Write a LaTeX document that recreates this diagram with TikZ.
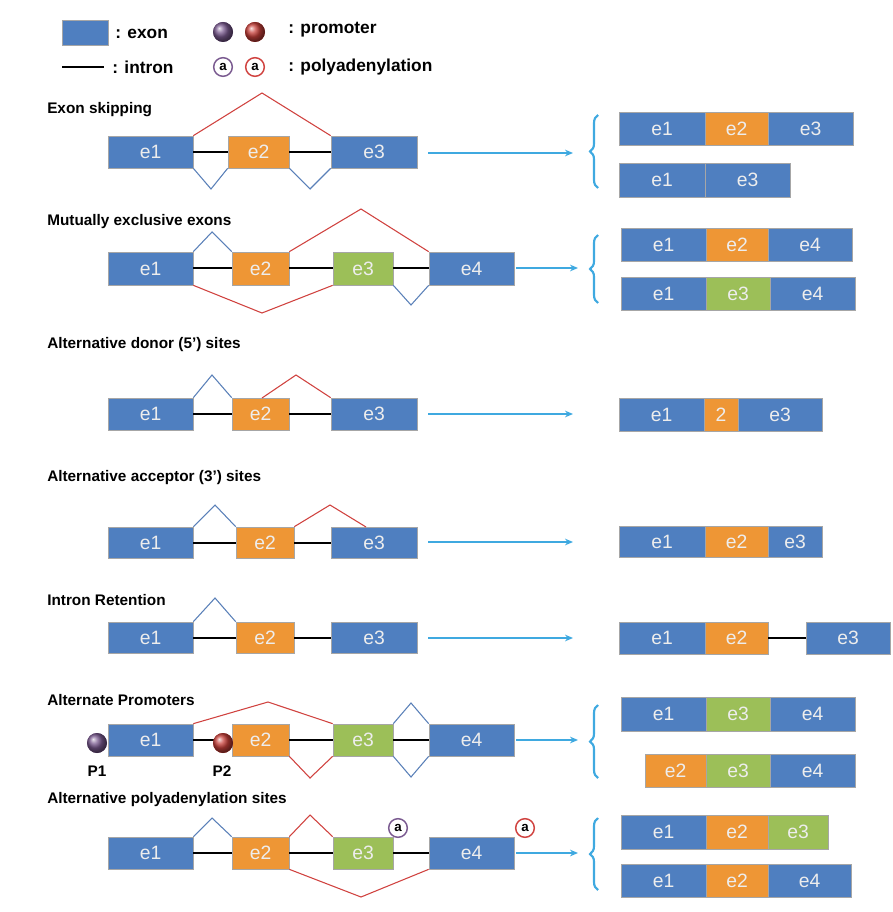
\documentclass[tikz,border=0pt]{standalone}
\usepackage{fontspec}
\setmainfont{Liberation Sans}
\usetikzlibrary{decorations.pathreplacing,arrows.meta}
\definecolor{eblue}{HTML}{4F7FC0}
\definecolor{eorange}{HTML}{EE9635}
\definecolor{egreen}{HTML}{9CBF58}
\definecolor{sred}{HTML}{D0423F}
\definecolor{sblue}{HTML}{5A80B8}
\definecolor{arrc}{HTML}{3FA9E0}
\definecolor{ppl}{HTML}{7A5A90}
\definecolor{rball}{HTML}{C8403A}
\tikzset{
 exon/.style={draw=black!35, line width=0.5pt, inner sep=0pt, text=white!93!black, font=\fontsize{14.5}{14.5}\selectfont},
 intron/.style={line width=1.5pt, black},
 rs/.style={sred, line width=0.8pt},
 bs/.style={sblue, line width=0.8pt},
 arr/.style={arrc, line width=1.2pt, -{Stealth[length=6pt,width=5pt]}},
 br/.style={arrc, line width=1.6pt, decorate, decoration={brace, amplitude=6pt, mirror}},
 ttl/.style={anchor=west, font=\bfseries\fontsize{11.5}{11.5}\selectfont, inner sep=0pt},
 lg/.style={anchor=west, font=\bfseries\fontsize{13}{13}\selectfont, inner sep=0pt},
 pa/.style={circle, draw=#1, line width=1.1pt, fill=white, minimum size=14pt, inner sep=0pt, font=\bfseries\fontsize{10}{10}\selectfont},
 ball/.style={circle, fill=#1, minimum size=15pt, inner sep=0pt, shading=ball, ball color=#1},
}
\newcommand\exonbox[7]{\node[exon,fill=#6,minimum width={(#3-#2)*0.75pt},minimum height={(#5-#4)*0.75pt}] (#1) at ({(#2+#3)/2},{(#4+#5)/2}) {#7};}
\begin{document}
\begin{tikzpicture}[x=0.75pt,y=-0.75pt]
\useasboundingbox (0,0) rectangle (892,912);
% legend
\exonbox{lgex}{62}{108}{20}{45}{eblue}{}
\node[lg] (lgext) at (115,34) {: exon};
\coordinate (li1) at (62,67); \coordinate (li2) at (104,67);
\draw[intron] (li1) -- (li2);
\node[lg] (lgint) at (112,67) {: intron};
\node[ball=ppl] (lgb1) at (223,32) {};
\node[ball=rball] (lgb2) at (255,32) {};
\node[lg] (lgpr) at (288,30) {: promoter};
\node[pa=ppl] (lga1) at (223,67) {a};
\node[pa=sred] (lga2) at (255,67) {a};
\node[lg] (lgpa) at (288,67) {: polyadenylation};

% Row 1
\node[ttl] (t1) at (47,110) {Exon skipping};
\exonbox{a1}{108}{193}{136}{168}{eblue}{e1}
\exonbox{a2}{228}{289}{136}{168}{eorange}{e2}
\exonbox{a3}{331}{417}{136}{168}{eblue}{e3}
\draw[intron] (a1.east) -- (a2.west) (a2.east) -- (a3.west);
\draw[rs] (a1.north east) -- (262,93) -- (a3.north west);
\draw[bs] (a1.south east) -- (211,189) -- (a2.south west);
\draw[bs] (a2.south east) -- (310,189) -- (a3.south west);
\coordinate (as) at (428,153); \coordinate (ae) at (573,153);
\draw[arr] (as) -- (ae);
\coordinate (ab1) at (598,115); \coordinate (ab2) at (598,188);
\draw[br] (ab1) -- (ab2);
\exonbox{ar1}{619}{705}{112}{145}{eblue}{e1}
\exonbox{ar2}{705}{768}{112}{145}{eorange}{e2}
\exonbox{ar3}{768}{853}{112}{145}{eblue}{e3}
\exonbox{ar4}{619}{705}{163}{197}{eblue}{e1}
\exonbox{ar5}{705}{790}{163}{197}{eblue}{e3}

% Row 2
\node[ttl] (t2) at (47,222) {Mutually exclusive exons};
\exonbox{b1}{108}{193}{252}{285}{eblue}{e1}
\exonbox{b2}{232}{289}{252}{285}{eorange}{e2}
\exonbox{b3}{333}{393}{252}{285}{egreen}{e3}
\exonbox{b4}{429}{514}{252}{285}{eblue}{e4}
\draw[intron] (b1.east) -- (b2.west) (b2.east) -- (b3.west) (b3.east) -- (b4.west);
\draw[bs] (b1.north east) -- (212,232) -- (b2.north west);
\draw[rs] (b2.north east) -- (361,209) -- (b4.north west);
\draw[rs] (b1.south east) -- (262,313) -- (b3.south west);
\draw[bs] (b3.south east) -- (411,305) -- (b4.south west);
\coordinate (bs) at (516,268); \coordinate (be) at (578,268);
\draw[arr] (bs) -- (be);
\coordinate (bb1) at (598,235); \coordinate (bb2) at (598,303);
\draw[br] (bb1) -- (bb2);
\exonbox{br1}{621}{706}{228}{261}{eblue}{e1}
\exonbox{br2}{706}{768}{228}{261}{eorange}{e2}
\exonbox{br3}{768}{852}{228}{261}{eblue}{e4}
\exonbox{br4}{621}{706}{277}{310}{eblue}{e1}
\exonbox{br5}{706}{770}{277}{310}{egreen}{e3}
\exonbox{br6}{770}{855}{277}{310}{eblue}{e4}

% Row 3
\node[ttl] (t3) at (47,345) {Alternative donor (5’) sites};
\exonbox{c1}{108}{193}{398}{430}{eblue}{e1}
\exonbox{c2}{232}{289}{398}{430}{eorange}{e2}
\exonbox{c3}{331}{417}{398}{430}{eblue}{e3}
\draw[intron] (c1.east) -- (c2.west) (c2.east) -- (c3.west);
\draw[bs] (c1.north east) -- (212,375) -- (c2.north west);
\coordinate (cd) at (262,398);
\draw[rs] (cd) -- (296,375) -- (c3.north west);
\coordinate (cs) at (428,414); \coordinate (ce) at (573,414);
\draw[arr] (cs) -- (ce);
\exonbox{cr1}{619}{704}{398}{431}{eblue}{e1}
\exonbox{cr2}{704}{738}{398}{431}{eorange}{2}
\exonbox{cr3}{738}{822}{398}{431}{eblue}{e3}

% Row 4
\node[ttl] (t4) at (47,478) {Alternative acceptor (3’) sites};
\exonbox{d1}{108}{193}{527}{558}{eblue}{e1}
\exonbox{d2}{236}{294}{527}{558}{eorange}{e2}
\exonbox{d3}{331}{417}{527}{558}{eblue}{e3}
\draw[intron] (d1.east) -- (d2.west) (d2.east) -- (d3.west);
\draw[bs] (d1.north east) -- (215,505) -- (d2.north west);
\coordinate (dd) at (366,527);
\draw[rs] (d2.north east) -- (330,505) -- (dd);
\coordinate (ds) at (428,542); \coordinate (de) at (573,542);
\draw[arr] (ds) -- (de);
\exonbox{dr1}{619}{705}{526}{557}{eblue}{e1}
\exonbox{dr2}{705}{768}{526}{557}{eorange}{e2}
\exonbox{dr3}{768}{822}{526}{557}{eblue}{e3}

% Row 5
\node[ttl] (t5) at (47,600) {Intron Retention};
\exonbox{e1}{108}{193}{622}{653}{eblue}{e1}
\exonbox{e2}{236}{294}{622}{653}{eorange}{e2}
\exonbox{e3}{331}{417}{622}{653}{eblue}{e3}
\draw[intron] (e1.east) -- (e2.west) (e2.east) -- (e3.west);
\draw[bs] (e1.north east) -- (215,598) -- (e2.north west);
\coordinate (es) at (428,638); \coordinate (ee) at (573,638);
\draw[arr] (es) -- (ee);
\exonbox{er1}{619}{705}{622}{654}{eblue}{e1}
\exonbox{er2}{705}{768}{622}{654}{eorange}{e2}
\exonbox{er3}{806}{890}{622}{654}{eblue}{e3}
\draw[intron] (er2.east) -- (er3.west);

% Row 6
\node[ttl] (t6) at (47,700) {Alternate Promoters};
\exonbox{f1}{108}{193}{724}{756}{eblue}{e1}
\exonbox{f2}{232}{289}{724}{756}{eorange}{e2}
\exonbox{f3}{333}{393}{724}{756}{egreen}{e3}
\exonbox{f4}{429}{514}{724}{756}{eblue}{e4}
\draw[intron] (f1.east) -- (f2.west) (f2.east) -- (f3.west) (f3.east) -- (f4.west);
\node[ball=ppl] (p1) at (97,743) {};
\node[ball=rball] (p2) at (223,743) {};
\node[font=\bfseries\fontsize{11.5}{11.5}\selectfont, inner sep=0pt] (p1l) at (97,771) {P1};
\node[font=\bfseries\fontsize{11.5}{11.5}\selectfont, inner sep=0pt] (p2l) at (222,771) {P2};
\draw[rs] (f1.north east) -- (268,702) -- (f3.north west);
\draw[rs] (f2.south east) -- (310,778) -- (f3.south west);
\draw[bs] (f3.north east) -- (411,703) -- (f4.north west);
\draw[bs] (f3.south east) -- (411,777) -- (f4.south west);
\coordinate (fs) at (516,740); \coordinate (fe) at (578,740);
\draw[arr] (fs) -- (fe);
\coordinate (fb1) at (598,705); \coordinate (fb2) at (598,778);
\draw[br] (fb1) -- (fb2);
\exonbox{fr1}{621}{706}{697}{731}{eblue}{e1}
\exonbox{fr2}{706}{770}{697}{731}{egreen}{e3}
\exonbox{fr3}{770}{855}{697}{731}{eblue}{e4}
\exonbox{fr4}{645}{706}{754}{787}{eorange}{e2}
\exonbox{fr5}{706}{770}{754}{787}{egreen}{e3}
\exonbox{fr6}{770}{855}{754}{787}{eblue}{e4}

% Row 7
\node[ttl] (t7) at (47,800) {Alternative polyadenylation sites};
\exonbox{g1}{108}{193}{837}{869}{eblue}{e1}
\exonbox{g2}{232}{289}{837}{869}{eorange}{e2}
\exonbox{g3}{333}{393}{837}{869}{egreen}{e3}
\exonbox{g4}{429}{514}{837}{869}{eblue}{e4}
\draw[intron] (g1.east) -- (g2.west) (g2.east) -- (g3.west) (g3.east) -- (g4.west);
\draw[bs] (g1.north east) -- (212,818) -- (g2.north west);
\draw[rs] (g2.north east) -- (310,815) -- (g3.north west);
\draw[rs] (g2.south east) -- (361,897) -- (g4.south west);
\node[pa=ppl] (ga1) at (398,828) {a};
\node[pa=sred] (ga2) at (525,828) {a};
\coordinate (gs) at (516,853); \coordinate (ge) at (578,853);
\draw[arr] (gs) -- (ge);
\coordinate (gb1) at (598,818); \coordinate (gb2) at (598,890);
\draw[br] (gb1) -- (gb2);
\exonbox{gr1}{621}{706}{815}{849}{eblue}{e1}
\exonbox{gr2}{706}{768}{815}{849}{eorange}{e2}
\exonbox{gr3}{768}{828}{815}{849}{egreen}{e3}
\exonbox{gr4}{621}{706}{864}{897}{eblue}{e1}
\exonbox{gr5}{706}{768}{864}{897}{eorange}{e2}
\exonbox{gr6}{768}{851}{864}{897}{eblue}{e4}
\end{tikzpicture}
\end{document}
